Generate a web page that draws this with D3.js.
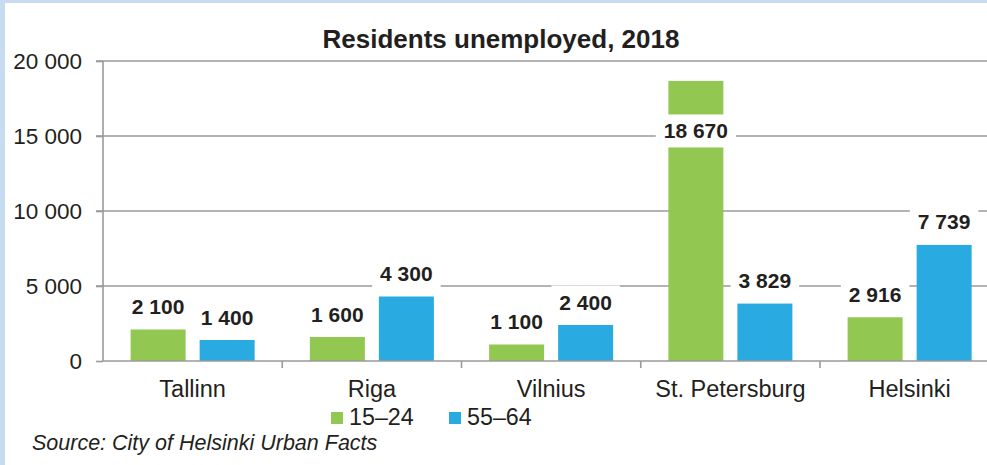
<!DOCTYPE html>
<html><head><meta charset="utf-8">
<script src="https://cdn.jsdelivr.net/npm/d3@7"></script>
<style>body{margin:0;background:#fff}svg{display:block;font-family:"Liberation Sans",Arial,sans-serif}</style>
</head><body><svg id="c" width="987" height="465"></svg>
<script>
const categories = ["Tallinn", "Riga", "Vilnius", "St. Petersburg", "Helsinki"];
const seriesNames = ["15–24", "55–64"];
const values15_24 = [2100, 1600, 1100, 18670, 2916];
const values55_64 = [1400, 4300, 2400, 3829, 7739];
const yTicks = [0, 5000, 10000, 15000, 20000];
const colors = ["#92c851", "#29abe2"];
const title = "Residents unemployed, 2018";
const source = "Source: City of Helsinki Urban Facts";

const svg = d3.select("#c");
const W = 987, H = 465;
// frame
svg.append("rect").attr("width", W).attr("height", H).attr("fill", "#c7dbf1");
svg.append("rect").attr("x", 5).attr("y", 3).attr("width", W - 5).attr("height", H - 3).attr("fill", "#fff");

const x = d3.scaleBand().domain(categories).range([103, 999.25]).padding(0);
const xs = d3.scaleBand().domain(seriesNames).range([0, x.bandwidth()]).paddingInner(0.203).paddingOuter(0.4);
const y = d3.scaleLinear().domain([0, 20000]).range([361, 61]);
const fmt = v => d3.format(",")(v).replace(/,/g, " ");
const txt = "#231f20";

// gridlines
svg.append("g").selectAll("line").data(yTicks.slice(1)).join("line")
  .attr("x1", 96).attr("x2", W).attr("y1", d => y(d)).attr("y2", d => y(d))
  .attr("stroke", "#9a9a9a").attr("stroke-width", 1.6);

// y axis
const yAxis = svg.append("g").attr("transform", "translate(103,0)")
  .call(d3.axisLeft(y).tickValues(yTicks).tickFormat(fmt).tickSize(7).tickPadding(14));
yAxis.select(".domain").attr("stroke", "#9a9a9a").attr("stroke-width", 1.6).attr("d", `M0,${y(20000)}V${y(0)}`);
yAxis.selectAll(".tick line").attr("stroke", "#9a9a9a").attr("stroke-width", 1.6);
yAxis.selectAll(".tick text").attr("font-size", 22.5).attr("fill", txt).attr("font-family", "Liberation Sans, Arial, sans-serif");

// bars
const data = categories.map((c, i) => ({c, vals: [values15_24[i], values55_64[i]]}));
const groups = svg.append("g").selectAll("g").data(data).join("g")
  .attr("transform", d => `translate(${x(d.c)},0)`);
groups.selectAll("rect").data(d => d.vals.map((v, j) => ({s: seriesNames[j], v, j}))).join("rect")
  .attr("x", d => xs(d.s)).attr("width", xs.bandwidth())
  .attr("y", d => y(d.v)).attr("height", d => y(0) - y(d.v))
  .attr("fill", d => colors[d.j]);

// x axis
svg.append("line").attr("x1", 103).attr("x2", W).attr("y1", y(0)).attr("y2", y(0))
  .attr("stroke", "#9a9a9a").attr("stroke-width", 1.6);
svg.append("g").selectAll("line").data(categories.slice(1)).join("line")
  .attr("x1", d => x(d)).attr("x2", d => x(d)).attr("y1", y(0)).attr("y2", y(0) + 7)
  .attr("stroke", "#9a9a9a").attr("stroke-width", 1.6);
svg.append("g").selectAll("text").data(categories).join("text")
  .attr("x", d => x(d) + x.bandwidth() / 2).attr("y", 397)
  .attr("text-anchor", "middle").attr("font-size", 23.5).attr("fill", txt).text(d => d);

// data labels
const labelY = v => { const t = y(v); return (t - 23 < y(20000) + 10) ? t + 50 : t - 23; };
groups.each(function(d) {
  const g = d3.select(this);
  d.vals.forEach((v, j) => {
    const cx = xs(seriesNames[j]) + xs.bandwidth() / 2;
    const cy = labelY(v);
    const t = g.append("text").attr("x", cx).attr("y", cy + 7.5)
      .attr("text-anchor", "middle").attr("font-size", 21).attr("font-weight", "bold")
      .attr("fill", txt).text(fmt(v));
    const bb = t.node().getBBox();
    g.insert("rect", () => t.node()).attr("x", bb.x - 8).attr("y", cy - 16.5)
      .attr("width", bb.width + 16).attr("height", 33).attr("fill", "#fff");
  });
});

// title
svg.append("text").attr("x", 501).attr("y", 48).attr("text-anchor", "middle")
  .attr("font-size", 26).attr("font-weight", "bold").attr("fill", txt).text(title);

// legend
const leg = svg.append("g").selectAll("g").data(seriesNames).join("g")
  .attr("transform", (d, i) => `translate(${331 + i * 118},0)`);
leg.append("rect").attr("x", 0).attr("y", 412).attr("width", 12).attr("height", 12)
  .attr("fill", (d, i) => colors[i]);
leg.append("text").attr("x", 18).attr("y", 425).attr("font-size", 23.3).attr("fill", txt).text(d => d);

// source
svg.append("text").attr("x", 32).attr("y", 450).attr("font-size", 21.5).attr("font-style", "italic")
  .attr("fill", txt).text(source);
</script></body></html>
